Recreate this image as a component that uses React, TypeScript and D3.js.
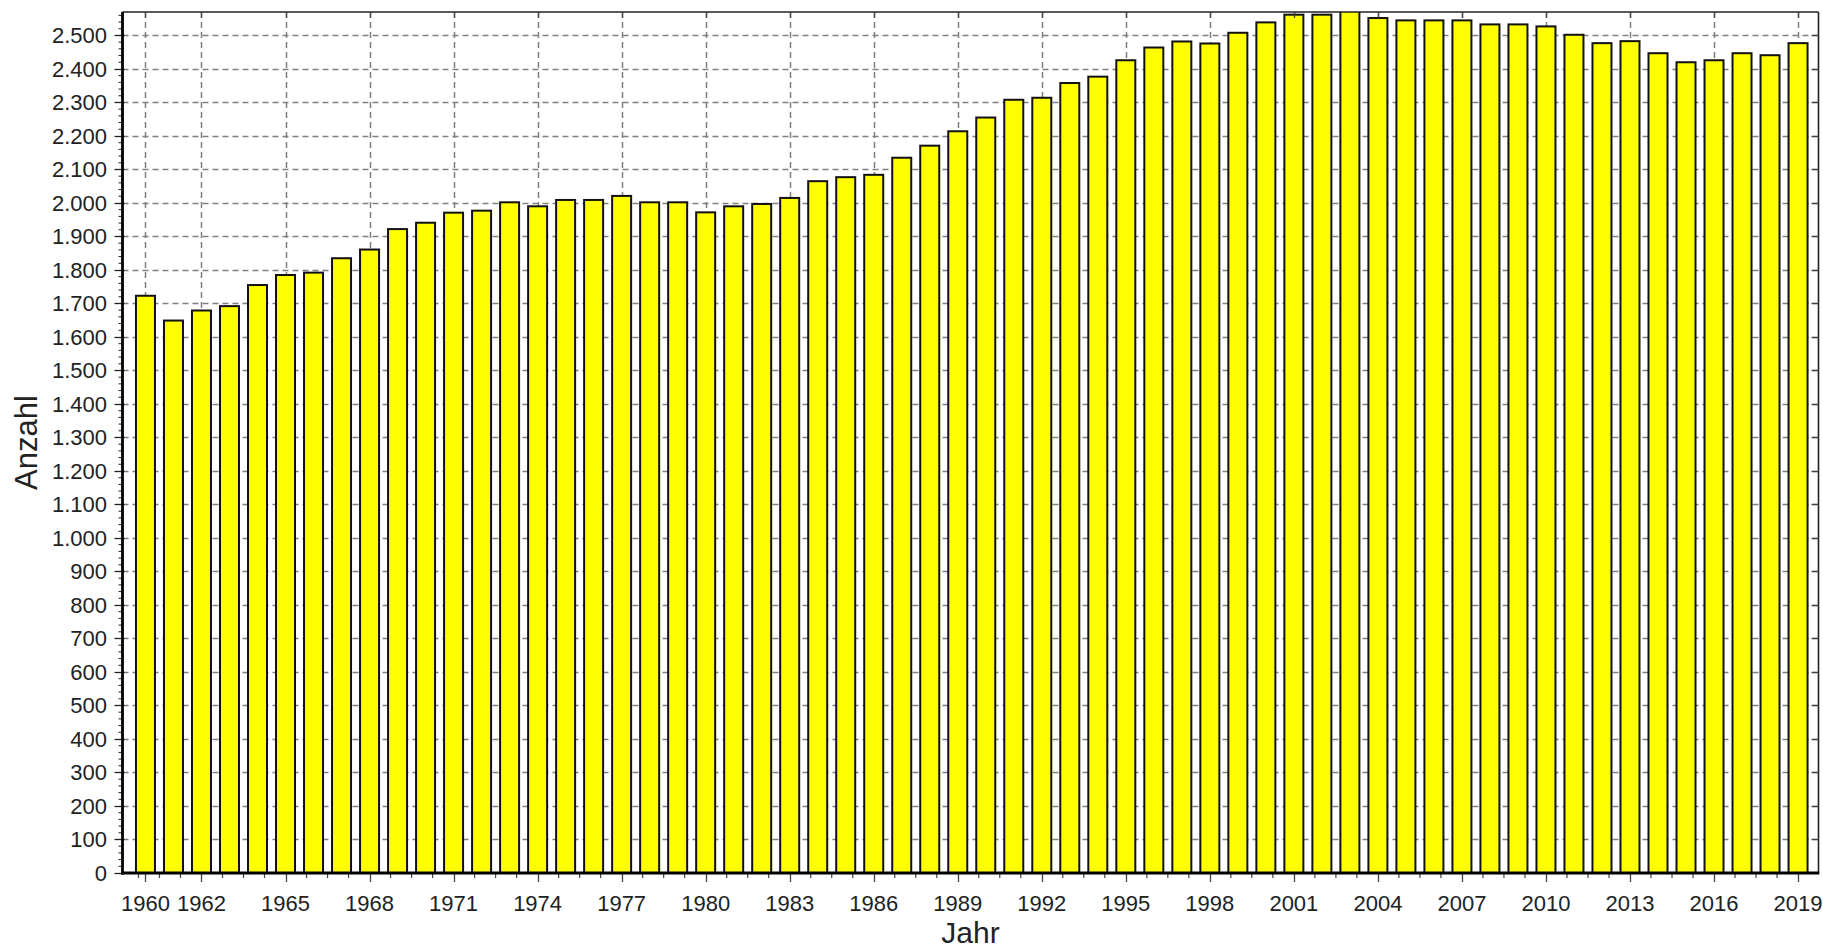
import React from "react";
import * as d3 from "d3";

const years = [
  1960, 1961, 1962, 1963, 1964, 1965, 1966, 1967, 1968, 1969,
  1970, 1971, 1972, 1973, 1974, 1975, 1976, 1977, 1978, 1979,
  1980, 1981, 1982, 1983, 1984, 1985, 1986, 1987, 1988, 1989,
  1990, 1991, 1992, 1993, 1994, 1995, 1996, 1997, 1998, 1999,
  2000, 2001, 2002, 2003, 2004, 2005, 2006, 2007, 2008, 2009,
  2010, 2011, 2012, 2013, 2014, 2015, 2016, 2017, 2018, 2019,
];

const counts = [
  1723, 1649, 1679, 1692, 1755, 1785, 1792, 1835, 1861, 1922,
  1941, 1971, 1977, 2002, 1990, 2009, 2009, 2021, 2002, 2002,
  1972, 1990, 1997, 2015, 2065, 2077, 2084, 2135, 2171, 2214,
  2255, 2308, 2314, 2358, 2377, 2426, 2464, 2482, 2476, 2508,
  2539, 2562, 2562, 2580, 2552, 2545, 2545, 2545, 2533, 2533,
  2527, 2502, 2477, 2483, 2447, 2420, 2426, 2447, 2441, 2477,
];

const xLabelYears = [
  1960, 1962, 1965, 1968, 1971, 1974, 1977, 1980, 1983, 1986, 1989,
  1992, 1995, 1998, 2001, 2004, 2007, 2010, 2013, 2016, 2019,
];

const yTickValues = [
  0, 100, 200, 300, 400, 500, 600, 700, 800, 900, 1000, 1100, 1200,
  1300, 1400, 1500, 1600, 1700, 1800, 1900, 2000, 2100, 2200, 2300,
  2400, 2500,
];

const xDomain = [1959.18, 2019.73];
const yDomain = [0, 2570];
const xTitle = "Jahr";
const yTitle = "Anzahl";

const W = 1823;
const H = 951;
const L = 122.5;
const R = 1818.5;
const T = 12;
const B = 873;

const FONT = "'Liberation Sans', Arial, sans-serif";

export default function App() {
  const x = d3.scaleLinear().domain(xDomain).range([L, R]);
  const y = d3.scaleLinear().domain(yDomain).range([B, T]);
  const barW = 19;
  const fmt = d3
    .formatLocale({ decimal: ",", thousands: ".", grouping: [3], currency: ["", "€"] })
    .format(",d");

  const minorY = d3.range(0, yDomain[1], 20).filter((v) => v % 100 !== 0);
  const minorX = d3
    .range(1959.75, xDomain[1], 0.75)
    .filter((v) => !xLabelYears.some((m) => Math.abs(m - v) < 1e-6));
  const gridY = yTickValues.filter((v) => v > 0);

  return (
    <svg
      width={W}
      height={H}
      style={{ position: "absolute", left: 0, top: 0, display: "block", background: "#fff" }}
    >
      <defs>
        <clipPath id="plotClip">
          <rect x={L} y={T} width={R - L} height={B - T} />
        </clipPath>
      </defs>
      <rect x={0} y={0} width={W} height={H} fill="#fff" />

      {/* grid */}
      <g stroke="#808080" strokeWidth={1.5} strokeDasharray="6 4">
        {gridY.map((v) => (
          <line key={"gy" + v} x1={L} x2={R} y1={Math.round(y(v)) + 0.5} y2={Math.round(y(v)) + 0.5} />
        ))}
        {xLabelYears.map((yr) => (
          <line key={"gx" + yr} x1={Math.round(x(yr)) + 0.5} x2={Math.round(x(yr)) + 0.5} y1={T} y2={B} />
        ))}
      </g>

      {/* bars */}
      <g clipPath="url(#plotClip)">
        {years.map((yr, i) => (
          <rect
            key={yr}
            x={x(yr) - barW / 2}
            y={y(counts[i])}
            width={barW}
            height={y(0) - y(counts[i])}
            fill="#ffff00"
            stroke="#111"
            strokeWidth={2}
          />
        ))}
      </g>

      {/* frame */}
      <line x1={L} x2={R} y1={T} y2={T} stroke="#222" strokeWidth={1.6} />
      <line x1={R} x2={R} y1={T} y2={B} stroke="#222" strokeWidth={1.6} />

      {/* right & top inner ticks */}
      <g stroke="#444" strokeWidth={1.3}>
        {gridY.map((v) => (
          <line key={"rt" + v} x1={R - 7} x2={R} y1={Math.round(y(v)) + 0.5} y2={Math.round(y(v)) + 0.5} />
        ))}
        {xLabelYears.map((yr) => (
          <line key={"tt" + yr} x1={Math.round(x(yr)) + 0.5} x2={Math.round(x(yr)) + 0.5} y1={T} y2={T + 6} />
        ))}
      </g>

      {/* y axis */}
      <g stroke="#222">
        {minorY.map((v) => (
          <line key={"my" + v} x1={L - 4} x2={L} y1={y(v)} y2={y(v)} strokeWidth={1} />
        ))}
        {yTickValues.map((v) => (
          <line key={"My" + v} x1={L - 8} x2={L + 2} y1={Math.round(y(v)) + 0.5} y2={Math.round(y(v)) + 0.5} strokeWidth={1.3} />
        ))}
      </g>
      <line x1={L} x2={L} y1={T} y2={B + 1.5} stroke="#000" strokeWidth={2.8} />

      {/* x axis */}
      <g stroke="#444">
        {minorX.map((v) => (
          <line key={"mx" + v} x1={x(v)} x2={x(v)} y1={B} y2={B + 5} strokeWidth={1.2} />
        ))}
        {xLabelYears.map((yr) => (
          <line key={"Mx" + yr} x1={Math.round(x(yr)) + 0.5} x2={Math.round(x(yr)) + 0.5} y1={B} y2={B + 9} strokeWidth={1.3} />
        ))}
      </g>
      <line x1={L - 1.4} x2={R + 0.8} y1={B} y2={B} stroke="#000" strokeWidth={3} />

      {/* tick labels */}
      <g fontFamily={FONT} fontSize={22} fill="#222">
        {yTickValues.map((v) => (
          <text key={"ly" + v} x={107} y={y(v)} dy="0.36em" textAnchor="end">
            {fmt(v)}
          </text>
        ))}
        {xLabelYears.map((yr) => (
          <text key={"lx" + yr} x={x(yr)} y={911} textAnchor="middle">
            {yr}
          </text>
        ))}
      </g>

      {/* axis titles */}
      <text
        x={(L + R) / 2}
        y={943}
        textAnchor="middle"
        fontFamily={FONT}
        fontSize={30}
        fill="#222"
      >
        {xTitle}
      </text>
      <text
        transform={`translate(37, ${(T + B) / 2}) rotate(-90)`}
        textAnchor="middle"
        fontFamily={FONT}
        fontSize={31}
        fill="#222"
      >
        {yTitle}
      </text>
    </svg>
  );
}
